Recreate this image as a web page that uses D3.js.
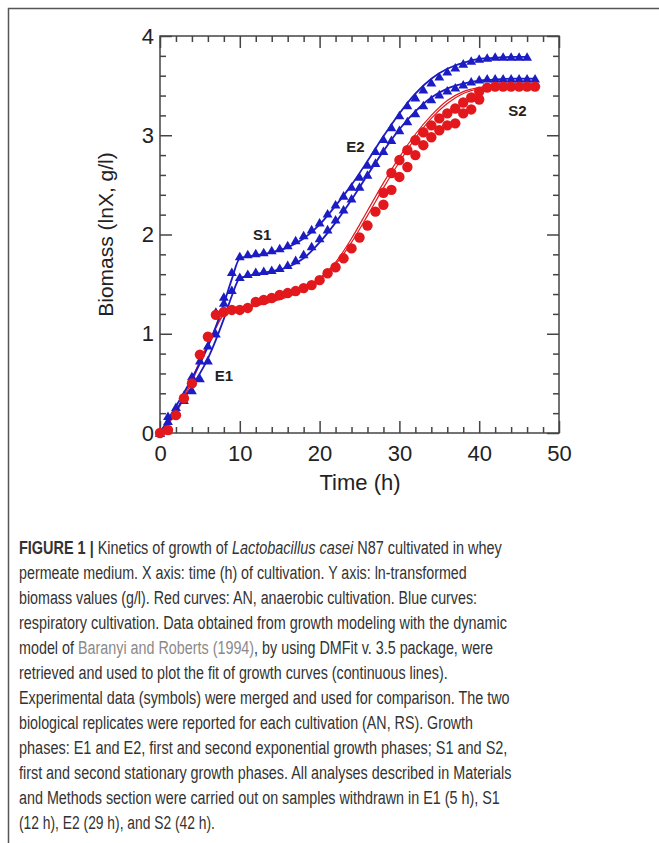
<!DOCTYPE html>
<html>
<head>
<meta charset="utf-8">
<script src="https://cdn.jsdelivr.net/npm/d3@7"></script>
<style>
  body { margin: 0; background: #fff; }
  svg { display: block; }
</style>
</head>
<body>
<div id="chart"></div>
<script>
// --- data ---
const hours = d3.range(0, 48); // sampling every hour, 0..47 h

// respiratory cultivation (blue triangles), two replicates
const rs1 = [0, 0.17, 0.26, 0.38, 0.57, 0.73, 0.88, 1.22, 1.37, 1.62, 1.78, 1.80, 1.81, 1.82, 1.84, 1.86,
  1.89, 1.94, 1.99, 2.05, 2.12, 2.21, 2.30, 2.39, 2.48, 2.58, 2.70, 2.84, 2.96, 3.08, 3.20, 3.30,
  3.38, 3.46, 3.53, 3.59, 3.64, 3.68, 3.72, 3.75, 3.77, 3.78, 3.79, 3.79, 3.79, 3.79, 3.79];
const rs2 = [0, 0.12, 0.22, 0.33, 0.43, 0.55, 0.73, 1.00, 1.31, 1.44, 1.57, 1.60, 1.62, 1.63, 1.64, 1.66,
  1.69, 1.74, 1.80, 1.88, 1.96, 2.05, 2.15, 2.25, 2.36, 2.48, 2.60, 2.72, 2.84, 2.95, 3.05, 3.14,
  3.22, 3.30, 3.36, 3.41, 3.45, 3.48, 3.51, 3.54, 3.56, 3.57, 3.57, 3.57, 3.57, 3.57, 3.57, 3.57];

// anaerobic cultivation (red circles), two replicates
const an1 = [0, 0.03, 0.18, 0.35, 0.50, 0.79, 0.97, 1.19, 1.22, 1.24, 1.24, 1.26, 1.32, 1.34, 1.36, 1.39,
  1.41, 1.43, 1.46, 1.49, 1.54, 1.61, 1.67, 1.76, 1.86, 1.97, 2.09, 2.23, 2.42, 2.62, 2.75, 2.85,
  2.95, 3.03, 3.10, 3.17, 3.22, 3.27, 3.33, 3.38, 3.44, 3.48, 3.49, 3.49, 3.49, 3.49, 3.49, 3.49];
const an2Hours = [28, 29, 30, 31, 32, 33, 34, 35, 36, 37, 38, 39, 40];
const an2 = [2.30, 2.45, 2.58, 2.68, 2.80, 2.90, 2.98, 3.05, 3.10, 3.12, 3.22, 3.26, 3.36];

// model fits (continuous lines)
const fitHours = [0, 2, 4, 6, 8, 9, 10, 12, 14, 16, 18, 20, 22, 24, 26, 28, 30, 32, 34, 36, 38, 40, 42, 44, 47];
const fitRs1 = [0, 0.27, 0.55, 0.87, 1.30, 1.55, 1.76, 1.79, 1.82, 1.87, 1.96, 2.10, 2.29, 2.50, 2.74, 2.99,
  3.22, 3.42, 3.57, 3.67, 3.73, 3.77, 3.78, 3.79, 3.79];
const fitRs2 = [0, 0.23, 0.47, 0.75, 1.15, 1.38, 1.56, 1.60, 1.63, 1.67, 1.76, 1.92, 2.12, 2.35, 2.60, 2.84,
  3.06, 3.24, 3.38, 3.47, 3.52, 3.55, 3.56, 3.57, 3.57];
const fitAn1 = [0, 0.22, 0.55, 0.90, 1.20, 1.24, 1.25, 1.29, 1.33, 1.38, 1.45, 1.56, 1.72, 1.96, 2.24, 2.52,
  2.78, 3.01, 3.20, 3.35, 3.44, 3.48, 3.50, 3.50, 3.50];
const fitAn2 = [0, 0.20, 0.52, 0.88, 1.19, 1.23, 1.24, 1.28, 1.32, 1.37, 1.44, 1.55, 1.70, 1.92, 2.19, 2.47,
  2.73, 2.97, 3.17, 3.32, 3.42, 3.47, 3.49, 3.50, 3.50];

const phaseLabels = [
  { text: 'E1', t: 8, v: 0.58 },
  { text: 'S1', t: 12.8, v: 2.0 },
  { text: 'E2', t: 24.5, v: 2.88 },
  { text: 'S2', t: 44.8, v: 3.25 }
];

const xTicks = [0, 10, 20, 30, 40, 50];
const yTicks = [0, 1, 2, 3, 4];

const captionLines = [
  [{ t: 'FIGURE 1 | ', b: true }, { t: 'Kinetics of growth of ' }, { t: 'Lactobacillus casei', i: true }, { t: ' N87 cultivated in whey' }],
  [{ t: 'permeate medium. X axis: time (h) of cultivation. Y axis: ln-transformed' }],
  [{ t: 'biomass values (g/l). Red curves: AN, anaerobic cultivation. Blue curves:' }],
  [{ t: 'respiratory cultivation. Data obtained from growth modeling with the dynamic' }],
  [{ t: 'model of ' }, { t: 'Baranyi and Roberts (1994)', g: true }, { t: ', by using DMFit v. 3.5 package, were' }],
  [{ t: 'retrieved and used to plot the fit of growth curves (continuous lines).' }],
  [{ t: 'Experimental data (symbols) were merged and used for comparison. The two' }],
  [{ t: 'biological replicates were reported for each cultivation (AN, RS). Growth' }],
  [{ t: 'phases: E1 and E2, first and second exponential growth phases; S1 and S2,' }],
  [{ t: 'first and second stationary growth phases. All analyses described in Materials' }],
  [{ t: 'and Methods section were carried out on samples withdrawn in E1 (5 h), S1' }],
  [{ t: '(12 h), E2 (29 h), and S2 (42 h).' }]
];
const captionWidths = [483, 448, 458, 488, 474, 429, 491, 454, 489, 493, 481, 196];

// --- drawing ---
const W = 659, H = 843;
const blue = '#1c1cc4', red = '#e3181c';

const svg = d3.select('#chart').append('svg')
  .attr('width', W).attr('height', H);

// page frame (top and left edges only)
svg.append('path')
  .attr('d', `M8.5,${H} V8.5 H${W}`)
  .attr('fill', 'none').attr('stroke', '#555').attr('stroke-width', 1.5);

const x = d3.scaleLinear().domain([0, 50]).range([160, 559]);
const y = d3.scaleLinear().domain([0, 4]).range([433, 36]);

const axisColor = '#444';
function styleAxis(g) {
  g.select('.domain').remove();
  g.selectAll('line').attr('stroke', axisColor).attr('stroke-width', 1.5);
  g.selectAll('text').attr('fill', '#222').style('font-family', 'Liberation Sans, Arial, sans-serif').style('font-size', '22px');
}

const minorX = d3.range(0, 51, 2).filter(d => d % 10 !== 0);
const minorY = d3.range(0, 4.01, 0.2).map(d => +d.toFixed(1)).filter(d => Math.abs(d - Math.round(d)) > 0.01);

// bottom
svg.append('g').attr('transform', `translate(0,${y(0)})`)
  .call(d3.axisBottom(x).tickValues(xTicks).tickSizeInner(-12).tickSizeOuter(0).tickPadding(12))
  .call(styleAxis);
svg.append('g').attr('transform', `translate(0,${y(0)})`)
  .call(d3.axisBottom(x).tickValues(minorX).tickSizeInner(-6).tickSizeOuter(0).tickFormat(''))
  .call(styleAxis);
// top
svg.append('g').attr('transform', `translate(0,${y(4)})`)
  .call(d3.axisTop(x).tickValues(xTicks).tickSizeInner(-12).tickSizeOuter(0).tickFormat(''))
  .call(styleAxis);
svg.append('g').attr('transform', `translate(0,${y(4)})`)
  .call(d3.axisTop(x).tickValues(minorX).tickSizeInner(-6).tickSizeOuter(0).tickFormat(''))
  .call(styleAxis);
// left
svg.append('g').attr('transform', `translate(${x(0)},0)`)
  .call(d3.axisLeft(y).tickValues(yTicks).tickSizeInner(-12).tickSizeOuter(0).tickPadding(6).tickFormat(d3.format('d')))
  .call(styleAxis);
svg.append('g').attr('transform', `translate(${x(0)},0)`)
  .call(d3.axisLeft(y).tickValues(minorY).tickSizeInner(-6).tickSizeOuter(0).tickFormat(''))
  .call(styleAxis);
// right
svg.append('g').attr('transform', `translate(${x(50)},0)`)
  .call(d3.axisRight(y).tickValues(yTicks).tickSizeInner(-12).tickSizeOuter(0).tickFormat(''))
  .call(styleAxis);
svg.append('g').attr('transform', `translate(${x(50)},0)`)
  .call(d3.axisRight(y).tickValues(minorY).tickSizeInner(-6).tickSizeOuter(0).tickFormat(''))
  .call(styleAxis);

// plot box
svg.append('rect')
  .attr('x', x(0)).attr('y', y(4))
  .attr('width', x(50) - x(0)).attr('height', y(0) - y(4))
  .attr('fill', 'none').attr('stroke', axisColor).attr('stroke-width', 1.5);

// axis titles
svg.append('text')
  .attr('x', 360).attr('y', 490)
  .attr('text-anchor', 'middle')
  .style('font-family', 'Liberation Sans, Arial, sans-serif').style('font-size', '22px')
  .attr('fill', '#222')
  .text('Time (h)');
svg.append('text')
  .attr('transform', `translate(113,${y(2)}) rotate(-90)`)
  .attr('text-anchor', 'middle')
  .style('font-family', 'Liberation Sans, Arial, sans-serif').style('font-size', '21px')
  .attr('fill', '#222')
  .text('Biomass (lnX, g/l)');

// fitted curves
const line = d3.line().x(d => x(d[0])).y(d => y(d[1])).curve(d3.curveMonotoneX);
const fits = [
  { v: fitAn1, c: red, w: 1.2 },
  { v: fitAn2, c: red, w: 1.2 },
  { v: fitRs2, c: blue, w: 1.8, end: 47 },
  { v: fitRs1, c: blue, w: 1.8, end: 46 }
];
fits.forEach(f => {
  const pts = fitHours.map((t, i) => [t, f.v[i]]);
  if (f.end === 46) pts[pts.length - 1][0] = 46;
  svg.append('path')
    .attr('d', line(pts))
    .attr('fill', 'none').attr('stroke', f.c).attr('stroke-width', f.w);
});

// symbols
const tri = d3.symbol().type(d3.symbolTriangle).size(42);
[rs1, rs2].forEach(arr => {
  svg.append('g').selectAll('path')
    .data(arr.map((v, i) => [hours[i], v]))
    .join('path')
    .attr('d', tri)
    .attr('transform', d => `translate(${x(d[0])},${y(d[1]) + 1})`)
    .attr('fill', blue);
});
const redPts = an1.map((v, i) => [hours[i], v]).concat(an2.map((v, i) => [an2Hours[i], v]));
svg.append('g').selectAll('circle')
  .data(redPts)
  .join('circle')
  .attr('cx', d => x(d[0])).attr('cy', d => y(d[1]))
  .attr('r', 5.2)
  .attr('fill', red);

// phase labels
svg.append('g').selectAll('text')
  .data(phaseLabels)
  .join('text')
  .attr('x', d => x(d.t)).attr('y', d => y(d.v))
  .attr('text-anchor', 'middle')
  .attr('dy', '0.35em')
  .style('font-family', 'Liberation Sans, Arial, sans-serif')
  .style('font-size', '15px').style('font-weight', 'bold')
  .attr('fill', '#222')
  .text(d => d.text);

// caption: condensed face, each line squeezed horizontally to the reference width
const cap = svg.append('g')
  .style('font-family', 'Liberation Sans, Arial, sans-serif')
  .style('font-size', '19px');
captionLines.forEach((parts, i) => {
  const t = cap.append('text')
    .attr('x', 0).attr('y', 0)
    .attr('fill', '#333');
  parts.forEach(p => {
    t.append('tspan')
      .style('font-weight', p.b ? 'bold' : 'normal')
      .style('font-style', p.i ? 'italic' : 'normal')
      .attr('fill', p.g ? '#8a8a8a' : '#333')
      .text(p.t);
  });
  const natural = t.node().getComputedTextLength();
  const sx = captionWidths[i] / natural;
  t.attr('transform', `translate(19,${554 + i * 25}) scale(${sx},1)`);
});
</script>
</body>
</html>
